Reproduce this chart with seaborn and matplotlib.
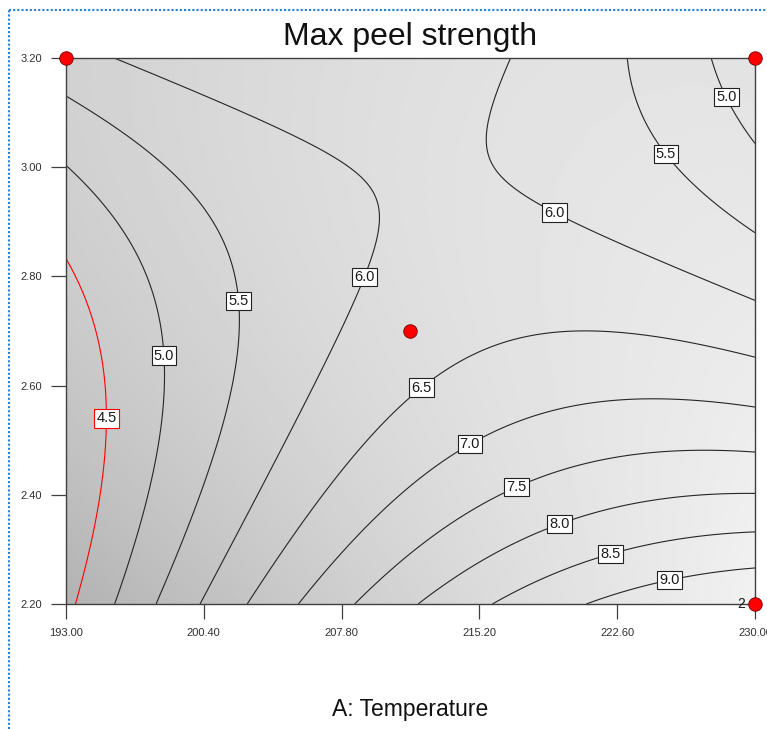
import numpy as np
import matplotlib
matplotlib.use("Agg")
import matplotlib.pyplot as plt
import seaborn as sns
from matplotlib.lines import Line2D

# ---------------- data ----------------
title = "Max peel strength"
x_label = "A: Temperature"
temp_ticks = [193.00, 200.40, 207.80, 215.20, 222.60, 230.00]
b_ticks = [2.20, 2.40, 2.60, 2.80, 3.00, 3.20]
levels = [4.5, 5.0, 5.5, 6.0, 6.5, 7.0, 7.5, 8.0, 8.5, 9.0]

# contour traces (temperature, factor B) for each labelled level
c45_t = [193.05, 194.13, 194.45, 194.72, 195.09, 195.09, 194.93, 194.29, 193.54]
c45_b = [2.83, 2.75, 2.72, 2.67, 2.62, 2.54, 2.43, 2.32, 2.20]
c50L_t = [193.05, 195.36, 196.97, 197.89, 198.21, 198.26, 197.89, 197.13, 195.63]
c50L_b = [3.00, 2.92, 2.85, 2.75, 2.665, 2.60, 2.48, 2.38, 2.20]
c55L_t = [193.05, 196.28, 198.96, 200.73, 201.97, 202.34, 202.24, 201.97, 201.00, 199.82, 197.89]
c55L_b = [3.13, 3.055, 2.98, 2.91, 2.80, 2.73, 2.665, 2.60, 2.48, 2.35, 2.20]
c60L_t = [195.52, 200.89, 206.26, 208.79, 209.86, 209.86, 209.32, 208.90, 207.34, 206.10, 203.42, 200.20]
c60L_b = [3.20, 3.12, 3.04, 2.99, 2.93, 2.885, 2.82, 2.79, 2.665, 2.57, 2.41, 2.20]
c65_t = [202.88, 205.19, 208.79, 210.94, 212.01, 214.16, 216.31, 218.99, 222.05, 225.27, 230.00]
c65_b = [2.20, 2.35, 2.48, 2.56, 2.59, 2.64, 2.68, 2.69, 2.70, 2.68, 2.65]
c70_t = [205.57, 208.79, 210.94, 214.53, 218.08, 220.76, 223.45, 226.13, 230.00]
c70_b = [2.20, 2.34, 2.40, 2.50, 2.54, 2.56, 2.57, 2.57, 2.56]
c75_t = [208.63, 210.94, 214.53, 217.00, 219.90, 223.45, 226.13, 230.00]
c75_b = [2.20, 2.275, 2.37, 2.42, 2.45, 2.47, 2.48, 2.48]
c80_t = [212.06, 215.39, 219.37, 223.45, 227.05, 230.00]
c80_b = [2.20, 2.275, 2.35, 2.39, 2.40, 2.40]
c85_t = [216.04, 218.99, 222.11, 225.27, 230.00]
c85_b = [2.20, 2.255, 2.30, 2.32, 2.33]
c90_t = [221.14, 225.27, 227.96, 230.00]
c90_b = [2.20, 2.245, 2.255, 2.265]
c60R_t = [216.84, 215.77, 215.39, 216.15, 217.76, 219.37, 222.59, 226.13, 230.00]
c60R_b = [3.20, 3.11, 3.045, 2.98, 2.945, 2.915, 2.86, 2.81, 2.76]
c55R_t = [223.13, 223.66, 224.74, 225.44, 227.05, 228.82, 230.00]
c55R_b = [3.20, 3.12, 3.05, 3.03, 2.96, 2.915, 2.88]
c50R_t = [227.69, 228.28, 228.66, 230.00]
c50R_b = [3.20, 3.14, 3.11, 3.04]

# design points shown as red dots
design_t = [193.0, 230.0, 230.0, 211.5]
design_b = [3.2, 3.2, 2.2, 2.7]
design_count = ["", "", "2", ""]

# ---------------- response surface fitted to the traces ----------------
traces = [
    (4.5, c45_t, c45_b), (5.0, c50L_t, c50L_b), (5.5, c55L_t, c55L_b),
    (6.0, c60L_t, c60L_b), (6.5, c65_t, c65_b), (7.0, c70_t, c70_b),
    (7.5, c75_t, c75_b), (8.0, c80_t, c80_b), (8.5, c85_t, c85_b),
    (9.0, c90_t, c90_b), (6.0, c60R_t, c60R_b), (5.5, c55R_t, c55R_b),
    (5.0, c50R_t, c50R_b),
]
tmin, tmax = temp_ticks[0], temp_ticks[-1]
bmin, bmax = b_ticks[0], b_ticks[-1]

def coded(t, b):
    a = (np.asarray(t) - (tmin + tmax) / 2) / ((tmax - tmin) / 2)
    c = (np.asarray(b) - (bmin + bmax) / 2) / ((bmax - bmin) / 2)
    return a, c

def design(a, c):
    return np.column_stack([np.ones_like(a), a, c, a * c, a ** 2, c ** 2])

T_all = np.concatenate([np.asarray(t, float) for _, t, _ in traces])
B_all = np.concatenate([np.asarray(b, float) for _, _, b in traces])
Z_all = np.concatenate([np.full(len(t), lv) for lv, t, _ in traces])
A_all, C_all = coded(T_all, B_all)
coef, *_ = np.linalg.lstsq(design(A_all, C_all), Z_all, rcond=None)

tg = np.linspace(tmin, tmax, 300)
bg = np.linspace(bmin, bmax, 300)
TG, BG = np.meshgrid(tg, bg)
AG, CG = coded(TG.ravel(), BG.ravel())
ZG = (design(AG, CG) @ coef).reshape(TG.shape)

# ---------------- figure ----------------
sns.set_theme(style="white")
plt.rcParams["font.family"] = ["Liberation Sans", "DejaVu Sans"]

W, H = 767, 729
fig = plt.figure(figsize=(W / 100, H / 100), dpi=100)
ax = fig.add_axes([66 / W, 1 - 604 / H, (755 - 66) / W, (604 - 58) / H])

# graduated grey background (styling only)
xf, yf = np.meshgrid(np.linspace(0, 1, 240), np.linspace(0, 1, 240))
shade = (0.95 - 0.13 * (1 - xf) ** 1.5
         - 0.12 * (1 - yf) ** 2 * (1 - xf) ** 0.7
         - 0.06 * yf * xf)
ax.imshow(shade, extent=[tmin, tmax, bmin, bmax], origin="lower",
          cmap="gray", vmin=0, vmax=1, aspect="auto", zorder=0,
          interpolation="bilinear")

line_colors = ["red" if lv == 4.5 else "#262626" for lv in levels]
cs = ax.contour(TG, BG, ZG, levels=levels, colors=line_colors,
                linewidths=0.8, zorder=2)

label_spots = [(195.09, 2.54), (198.26, 2.655), (202.24, 2.755), (208.90, 2.80),
               (219.37, 2.925), (225.44, 3.03), (228.55, 3.13), (211.9, 2.605),
               (214.48, 2.505), (217.06, 2.425), (219.37, 2.357), (222.11, 2.305),
               (225.33, 2.257)]
texts = ax.clabel(cs, fmt="%.1f", inline=False, manual=label_spots,
                  fontsize=10.5, colors="#1a1a1a")
for t in texts:
    t.set_rotation(0)
    is_red = t.get_text() == "4.5"
    t.set_color("#1a1a1a")
    t.set_bbox(dict(facecolor="white", edgecolor="red" if is_red else "#202020",
                    boxstyle="square,pad=0.15", linewidth=0.8))
    t.set_zorder(5)

sns.scatterplot(x=design_t, y=design_b, ax=ax, color="red", s=95,
                edgecolor="#700000", linewidth=0.6, zorder=10, clip_on=False,
                legend=False)
for t, b, n in zip(design_t, design_b, design_count):
    if n:
        ax.annotate(n, (t, b), xytext=(-7, 0), textcoords="offset points",
                    ha="right", va="center", fontsize=10, color="#1a1a1a",
                    zorder=11, annotation_clip=False)

ax.set_xlim(tmin, tmax)
ax.set_ylim(bmin, bmax)
ax.set_xticks(temp_ticks)
ax.set_xticklabels([f"{v:.2f}" for v in temp_ticks])
ax.set_yticks(b_ticks)
ax.set_yticklabels([f"{v:.2f}" for v in b_ticks])
ax.tick_params(axis="both", which="major", direction="out", length=11,
               width=0.9, color="#404040", labelsize=8, labelcolor="#303030",
               pad=6, bottom=True, left=True)
for sp in ax.spines.values():
    sp.set_color("#404040")
    sp.set_linewidth(1.0)

ax.set_title(title, fontsize=23, y=1.0385, pad=0, va="center", color="#111111")
ax.set_xlabel(x_label, fontsize=16.5, color="#111111")
ax.xaxis.set_label_coords(0.5, -0.1925)
ax.xaxis.label.set_va("center")

# dotted selection frame
frame_kw = dict(transform=fig.transFigure, color="#2a7fd4", linewidth=1.5,
                linestyle=(0, (1, 1)))
fig.add_artist(Line2D([9 / W, 9 / W], [0, 1 - 10 / H], **frame_kw))
fig.add_artist(Line2D([9 / W, 1], [1 - 10 / H, 1 - 10 / H], **frame_kw))

fig.savefig("out.png", dpi=100, facecolor="white")
